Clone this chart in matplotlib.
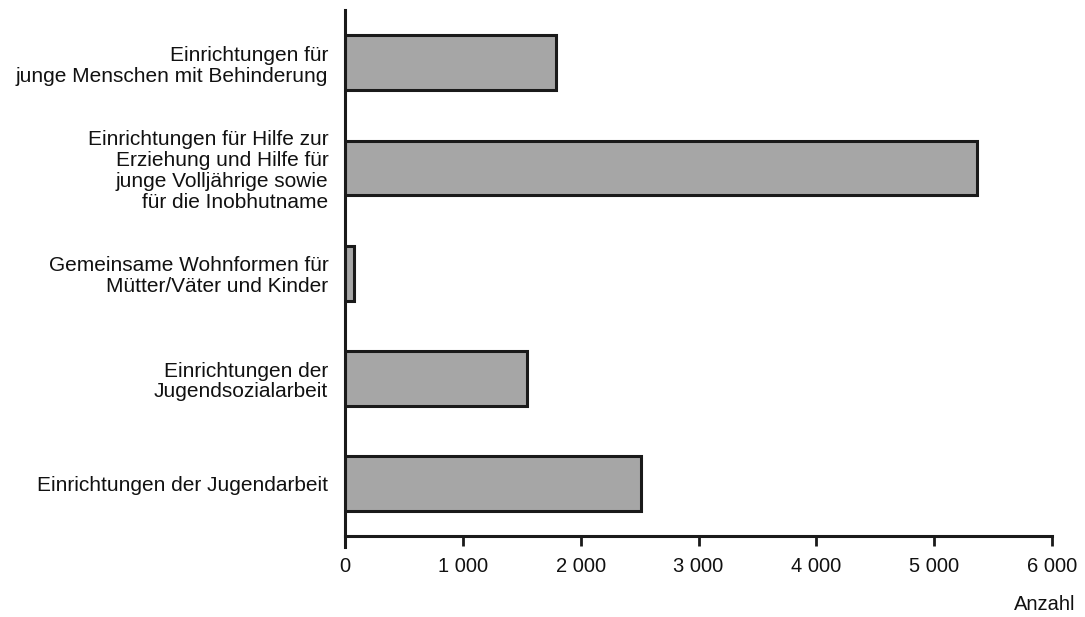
import matplotlib
matplotlib.use("Agg")
import matplotlib.pyplot as plt

categories = [
    "Einrichtungen der Jugendarbeit",
    "Einrichtungen der\nJugendsozialarbeit",
    "Gemeinsame Wohnformen für\nMütter/Väter und Kinder",
    "Einrichtungen für Hilfe zur\nErziehung und Hilfe für\njunge Volljährige sowie\nfür die Inobhutname",
    "Einrichtungen für\njunge Menschen mit Behinderung",
]
values = [2510, 1545, 75, 5365, 1790]
xticks = [0, 1000, 2000, 3000, 4000, 5000, 6000]
xtick_labels = ["0", "1 000", "2 000", "3 000", "4 000", "5 000", "6 000"]

plt.rcParams['font.family'] = ['Liberation Sans', 'DejaVu Sans']

fig = plt.figure(figsize=(10.85, 6.17), dpi=100)
ax = fig.add_axes([345/1085, 1-547/617, (1052-345)/1085, (547-10)/617])

ypos = list(range(len(categories)))
ax.barh(ypos, values, height=0.52, color="#a6a6a6", edgecolor="#1a1a1a", linewidth=2.2)

ax.set_xlim(0, 6000)
ax.set_ylim(-0.6, 4.5)
ax.set_xticks(xticks)
ax.set_xticklabels(xtick_labels)
ax.set_yticks(ypos)
ax.set_yticklabels(categories, linespacing=1.13, multialignment='right')

for s in ['top', 'right']:
    ax.spines[s].set_visible(False)
ax.spines['bottom'].set_position(('data', -0.5))
ax.spines['bottom'].set_linewidth(2.2)
ax.spines['left'].set_linewidth(2.2)
ax.spines['bottom'].set_color("#1a1a1a")
ax.spines['left'].set_color("#1a1a1a")
ax.tick_params(axis='x', direction='out', length=7, width=2, color="#1a1a1a", pad=8,
               labelsize=14.5, labelcolor="#111111")
ax.tick_params(axis='y', length=0, pad=12, labelsize=15, labelcolor="#111111")

fig.text(1075/1085, 1-605/617, "Anzahl", ha='right', va='center', fontsize=14.5, color="#111111")

fig.savefig("out.png", dpi=100, facecolor="white")
